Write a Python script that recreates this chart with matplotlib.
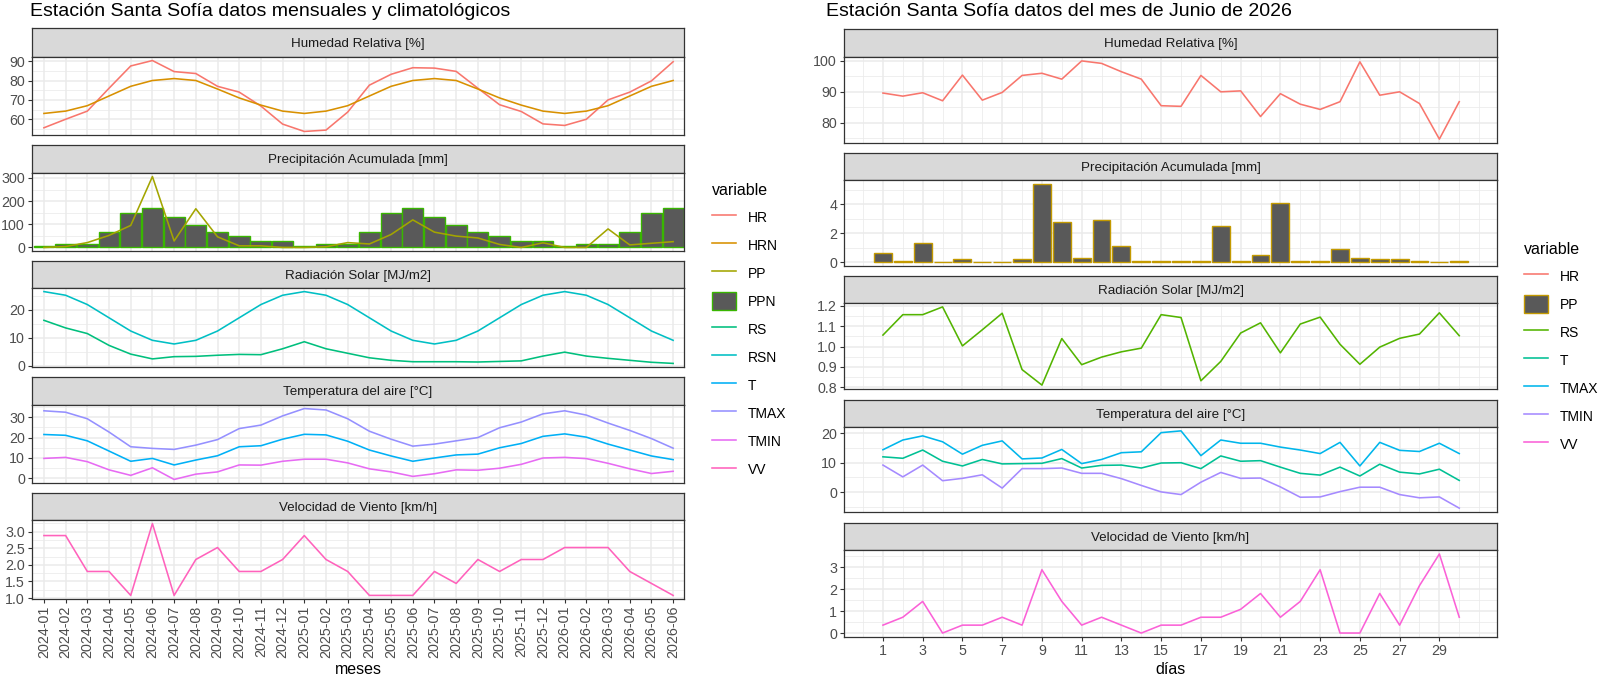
import numpy as np
import pandas as pd
import matplotlib
matplotlib.use('Agg')
import matplotlib.pyplot as plt
from matplotlib.lines import Line2D
from matplotlib.patches import Patch
from matplotlib.ticker import FixedLocator, FormatStrFormatter

plt.rcParams['font.family'] = ['Liberation Sans', 'DejaVu Sans']

# ---------------- monthly + climatology data (left) ----------------
meses = pd.date_range('2024-01-01', periods=30, freq='MS').strftime('%Y-%m').tolist()

hr = [55.6, 60.0, 64.2, 76.0, 87.5, 90.3, 84.6, 83.6, 77.0, 74.0, 66.8, 57.5,
      53.7, 54.4, 63.7, 77.6, 83.2, 86.6, 86.4, 84.7, 76.0, 67.5, 64.0, 57.6,
      56.8, 60.0, 70.0, 74.0, 79.8, 89.7]
hrn = [63.0, 64.2, 67.0, 72.0, 77.0, 80.0, 81.0, 80.0, 75.6, 71.0, 67.3, 64.2,
       63.0, 64.2, 67.0, 72.0, 77.0, 80.0, 81.0, 80.0, 75.6, 71.0, 67.3, 64.2,
       63.0, 64.2, 67.0, 72.0, 77.0, 80.0]
pp = [0, 4, 21, 52, 95, 306, 28, 167, 46, 7, 7, 0,
      0, 3, 21, 15, 56, 119, 66, 49, 41, 13, 0, 20,
      0, 0, 80, 11, 18, 25]
ppn = [7, 17, 17, 66, 147, 170, 131, 98, 66, 49, 27, 27,
       7, 17, 17, 66, 147, 170, 131, 98, 66, 49, 27, 27,
       7, 17, 17, 66, 147, 170]
rs = [16.2, 13.5, 11.5, 7.3, 4.2, 2.5, 3.3, 3.4, 3.8, 4.1, 4.0, 6.1,
      8.6, 6.1, 4.5, 2.9, 2.0, 1.5, 1.5, 1.5, 1.4, 1.6, 1.8, 3.5,
      4.9, 3.5, 2.7, 2.0, 1.3, 0.9]
rsn = [26.4, 25.1, 21.8, 17.1, 12.4, 9.1, 7.8, 9.1, 12.4, 17.1, 21.8, 25.1,
       26.4, 25.1, 21.8, 17.1, 12.4, 9.1, 7.8, 9.1, 12.4, 17.1, 21.8, 25.1,
       26.4, 25.1, 21.8, 17.1, 12.4, 9.1]
t = [21.5, 21.1, 18.4, 13.4, 8.4, 9.8, 6.6, 9.0, 11.1, 15.5, 16.0, 19.2,
     21.6, 21.3, 18.2, 13.9, 11.0, 8.4, 10.0, 11.5, 11.9, 15.0, 17.1, 20.6,
     21.8, 20.2, 16.8, 13.9, 11.0, 9.2]
tmax = [33.1, 32.4, 29.2, 22.7, 15.5, 14.7, 14.2, 16.3, 19.0, 24.4, 26.1, 30.6,
        34.2, 33.5, 29.2, 23.1, 19.2, 15.8, 16.8, 18.4, 20.0, 24.8, 27.6, 31.6,
        33.1, 31.0, 27.1, 23.5, 19.5, 14.8]
tmin = [9.8, 10.3, 8.2, 4.2, 1.5, 5.2, -0.5, 2.1, 3.2, 6.6, 6.5, 8.4,
        9.4, 9.4, 7.6, 4.7, 3.2, 1.0, 2.3, 4.2, 4.0, 5.0, 6.9, 10.0,
        10.3, 9.7, 7.4, 4.7, 2.4, 3.5]
vv = [2.88, 2.88, 1.80, 1.80, 1.08, 3.24, 1.08, 2.16, 2.52, 1.80, 1.80, 2.16,
      2.88, 2.16, 1.80, 1.08, 1.08, 1.08, 1.80, 1.44, 2.16, 1.80, 2.16, 2.16,
      2.52, 2.52, 2.52, 1.80, 1.44, 1.08]

# ---------------- daily data June 2026 (right) ----------------
dias = list(range(1, 31))
hr_d = [89.6, 88.6, 89.7, 87.1, 95.4, 87.3, 89.8, 95.3, 96.0, 94.1,
        100.0, 99.2, 96.5, 94.1, 85.5, 85.3, 95.3, 90.0, 90.3, 82.0,
        89.4, 86.0, 84.3, 86.8, 99.7, 88.9, 90.0, 86.2, 74.7, 86.8]
pp_d = [0.6, 0.1, 1.3, 0.0, 0.2, 0.0, 0.0, 0.2, 5.4, 2.8,
        0.3, 2.9, 1.1, 0.1, 0.1, 0.1, 0.1, 2.5, 0.1, 0.5,
        4.1, 0.1, 0.1, 0.9, 0.3, 0.2, 0.2, 0.1, 0.0, 0.1]
rs_d = [1.056, 1.156, 1.156, 1.194, 1.003, 1.082, 1.163, 0.887, 0.811, 1.039,
        0.911, 0.948, 0.974, 0.992, 1.156, 1.142, 0.832, 0.927, 1.066, 1.116,
        0.969, 1.110, 1.144, 1.011, 0.913, 0.997, 1.040, 1.061, 1.165, 1.053]
t_d = [12.0, 11.5, 14.3, 10.5, 8.9, 11.1, 9.6, 9.7, 9.8, 11.4,
       8.2, 9.1, 9.2, 8.2, 9.9, 10.0, 8.0, 12.3, 10.5, 10.7,
       8.5, 6.4, 5.8, 8.5, 5.5, 9.5, 6.8, 6.2, 7.8, 4.0]
tmax_d = [14.4, 17.7, 19.1, 17.1, 12.9, 15.9, 17.4, 11.3, 11.6, 14.5,
          9.7, 11.1, 13.4, 13.7, 20.2, 20.8, 12.4, 17.7, 16.6, 16.6,
          15.3, 14.3, 13.1, 16.9, 8.9, 16.9, 14.2, 13.8, 16.6, 13.1]
tmin_d = [9.2, 5.2, 9.2, 3.9, 4.7, 5.9, 1.4, 8.0, 8.0, 8.2,
          6.4, 6.4, 4.6, 2.3, 0.1, -0.8, 3.4, 6.7, 4.7, 4.8,
          1.8, -1.7, -1.6, 0.2, 1.7, 1.7, -0.8, -1.9, -1.6, -5.4]
vv_d = [0.36, 0.72, 1.44, 0.00, 0.36, 0.36, 0.72, 0.36, 2.88, 1.44,
        0.36, 0.72, 0.36, 0.00, 0.36, 0.36, 0.72, 0.72, 1.08, 1.80,
        0.72, 1.44, 2.88, 0.00, 0.00, 1.80, 0.36, 2.16, 3.60, 0.72]

col_l = {'HR': '#F8766D', 'HRN': '#D89000', 'PP': '#A3A500', 'PPN': '#39B600',
         'RS': '#00BF7D', 'RSN': '#00BFC4', 'T': '#00B0F6', 'TMAX': '#9590FF',
         'TMIN': '#E76BF3', 'VV': '#FF62BC'}
col_r = {'HR': '#F8766D', 'PP': '#C49A00', 'RS': '#53B400', 'T': '#00C094',
         'TMAX': '#00B6EB', 'TMIN': '#A58AFF', 'VV': '#FB61D7'}
BAR_FILL = '#595959'
LW = 1.15
TICK_FS = 10.3

W, H = 1600, 676
fig = plt.figure(figsize=(16, 6.76), dpi=100)


def box(x0, y0, x1, y1):
    return [x0 / W, 1 - y1 / H, (x1 - x0) / W, (y1 - y0) / H]


def make_panel(x0, x1, top, strip_bot, bot, label):
    s = fig.add_axes(box(x0, top, x1, strip_bot))
    s.set_facecolor('#D9D9D9')
    s.set_xticks([])
    s.set_yticks([])
    for sp in s.spines.values():
        sp.set_color('#333333')
        sp.set_linewidth(0.9)
    s.text(0.5, 0.45, label, ha='center', va='center', fontsize=9.6,
           color='#1A1A1A', transform=s.transAxes)
    ax = fig.add_axes(box(x0, strip_bot, x1, bot))
    return ax


def style(ax, series, yticks, xlim, xmajor, xminor, fmt=None, bars=False):
    vals = np.concatenate([np.asarray(v, float) for v in series])
    lo, hi = vals.min(), vals.max()
    if bars:
        lo = min(lo, 0)
    pad = 0.05 * (hi - lo)
    ax.set_ylim(lo - pad, hi + pad)
    ax.set_xlim(*xlim)
    ax.yaxis.set_major_locator(FixedLocator(yticks))
    step = yticks[1] - yticks[0]
    ax.yaxis.set_minor_locator(FixedLocator(
        np.arange(yticks[0] - step / 2, yticks[-1] + step, step)))
    ax.xaxis.set_major_locator(FixedLocator(xmajor))
    ax.xaxis.set_minor_locator(FixedLocator(xminor))
    if fmt:
        ax.yaxis.set_major_formatter(FormatStrFormatter(fmt))
    ax.grid(which='major', color='#EBEBEB', lw=1.1)
    ax.grid(which='minor', color='#EBEBEB', lw=0.55)
    ax.set_axisbelow(True)
    ax.tick_params(which='minor', length=0)
    ax.tick_params(which='major', length=3, width=0.8, color='#333333',
                   labelsize=TICK_FS, labelcolor='#4D4D4D', pad=2)
    ax.tick_params(axis='x', length=0, labelbottom=False)
    for sp in ax.spines.values():
        sp.set_color('#333333')
        sp.set_linewidth(0.9)


def legend(colors, bar_key, x, y):
    handles = [Line2D([], [], color=colors[k], lw=LW) if k != bar_key
               else Patch(facecolor=BAR_FILL, edgecolor=colors[k], lw=1.0)
               for k in colors]
    fig.legend(handles, list(colors), loc='upper left',
               bbox_to_anchor=(x / W, 1 - y / H), frameon=False,
               title='variable', fontsize=10, title_fontsize=11.5,
               handlelength=1.7, handleheight=1.6, labelspacing=0.735,
               handletextpad=0.85, alignment='left', borderpad=0.3)


# ---------------- left: monthly ----------------
xm = np.arange(len(meses))
LX0, LX1 = 32, 684
lxlim = (-0.55, 29.5)
lminor = []

ax = make_panel(LX0, LX1, 28, 57, 135, 'Humedad Relativa [%]')
ax.plot(xm, hr, color=col_l['HR'], lw=LW)
ax.plot(xm, hrn, color=col_l['HRN'], lw=LW)
style(ax, [hr, hrn], [60, 70, 80, 90], lxlim, xm, lminor)

ax = make_panel(LX0, LX1, 145, 173, 251, 'Precipitación Acumulada [mm]')
ax.bar(xm, ppn, width=0.96, color=BAR_FILL, edgecolor=col_l['PPN'], lw=1.0)
ax.plot(xm, pp, color=col_l['PP'], lw=LW)
style(ax, [pp, ppn], [0, 100, 200, 300], lxlim, xm, lminor, bars=True)

ax = make_panel(LX0, LX1, 261, 288, 367, 'Radiación Solar [MJ/m2]')
ax.plot(xm, rs, color=col_l['RS'], lw=LW)
ax.plot(xm, rsn, color=col_l['RSN'], lw=LW)
style(ax, [rs, rsn], [0, 10, 20], lxlim, xm, lminor)

ax = make_panel(LX0, LX1, 377, 405, 483, 'Temperatura del aire [°C]')
ax.plot(xm, t, color=col_l['T'], lw=LW)
ax.plot(xm, tmax, color=col_l['TMAX'], lw=LW)
ax.plot(xm, tmin, color=col_l['TMIN'], lw=LW)
style(ax, [t, tmax, tmin], [0, 10, 20, 30], lxlim, xm, lminor)

ax = make_panel(LX0, LX1, 493, 520, 599, 'Velocidad de Viento [km/h]')
ax.plot(xm, vv, color=col_l['VV'], lw=LW)
style(ax, [vv], [1.0, 1.5, 2.0, 2.5, 3.0], lxlim, xm, lminor, fmt='%.1f')
ax.tick_params(axis='x', length=3, labelbottom=True)
ax.set_xticklabels(meses, rotation=90, fontsize=TICK_FS, color='#4D4D4D')

fig.text(30 / W, 1 - 12 / H, 'Estación Santa Sofía datos mensuales y climatológicos',
         fontsize=14, ha='left', va='center', color='black')
fig.text((LX0 + LX1) / 2 / W, 1 - 669 / H, 'meses', fontsize=11.5,
         ha='center', va='center')
legend(col_l, 'PPN', 701, 172)

# ---------------- right: daily ----------------
RX0, RX1 = 844, 1497
rxlim = (-0.96, 31.9)
rmajor = list(range(1, 30, 2))
rminor = [d for d in range(0, 32) if d not in rmajor]

ax = make_panel(RX0, RX1, 29, 57, 143, 'Humedad Relativa [%]')
ax.plot(dias, hr_d, color=col_r['HR'], lw=LW)
style(ax, [hr_d], [80, 90, 100], rxlim, rmajor, rminor)

ax = make_panel(RX0, RX1, 153, 180, 266, 'Precipitación Acumulada [mm]')
ax.bar(dias, pp_d, width=0.9, color=BAR_FILL, edgecolor=col_r['PP'], lw=1.0)
style(ax, [pp_d], [0, 2, 4], rxlim, rmajor, rminor, bars=True)

ax = make_panel(RX0, RX1, 276, 303, 389, 'Radiación Solar [MJ/m2]')
ax.plot(dias, rs_d, color=col_r['RS'], lw=LW)
style(ax, [rs_d], [0.8, 0.9, 1.0, 1.1, 1.2], rxlim, rmajor, rminor, fmt='%.1f')

ax = make_panel(RX0, RX1, 400, 427, 512, 'Temperatura del aire [°C]')
ax.plot(dias, t_d, color=col_r['T'], lw=LW)
ax.plot(dias, tmax_d, color=col_r['TMAX'], lw=LW)
ax.plot(dias, tmin_d, color=col_r['TMIN'], lw=LW)
style(ax, [t_d, tmax_d, tmin_d], [0, 10, 20], rxlim, rmajor, rminor)

ax = make_panel(RX0, RX1, 523, 550, 637, 'Velocidad de Viento [km/h]')
ax.plot(dias, vv_d, color=col_r['VV'], lw=LW)
style(ax, [vv_d], [0, 1, 2, 3], rxlim, rmajor, rminor)
ax.tick_params(axis='x', length=3, labelbottom=True)
ax.set_xticklabels([str(d) for d in rmajor], fontsize=TICK_FS, color='#4D4D4D')

fig.text(826 / W, 1 - 12 / H, 'Estación Santa Sofía datos del mes de Junio de 2026',
         fontsize=14, ha='left', va='center', color='black')
fig.text((RX0 + RX1) / 2 / W, 1 - 669 / H, 'días', fontsize=11.5,
         ha='center', va='center')
legend(col_r, 'PP', 1513, 231)

fig.savefig('out.png', dpi=100)
